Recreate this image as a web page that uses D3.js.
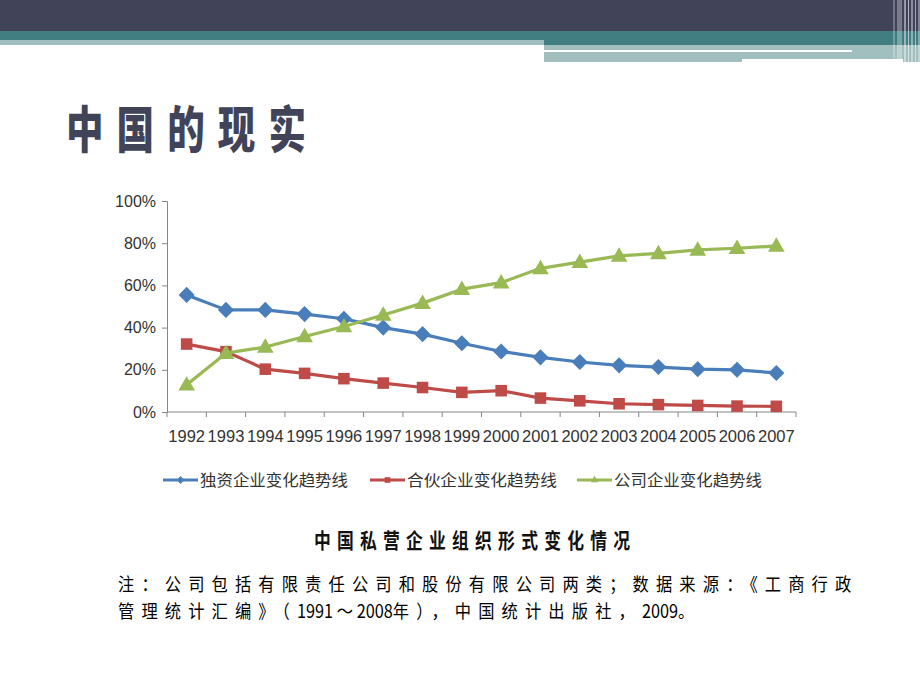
<!DOCTYPE html>
<html>
<head>
<meta charset="utf-8">
<script src="https://cdn.jsdelivr.net/npm/d3@7"></script>
<style>
  body { margin: 0; background: #fff; }
  svg { display: block; }
</style>
</head>
<body>
<svg id="slide" width="920" height="690"></svg>
<script>
// data
var years = ["1992","1993","1994","1995","1996","1997","1998","1999","2000","2001","2002","2003","2004","2005","2006","2007"];
var soleValues = [55.5, 48.4, 48.4, 46.4, 44.2, 40.0, 36.9, 32.6, 28.7, 25.9, 23.7, 22.1, 21.3, 20.3, 20.0, 18.5];
var partnerValues = [32.2, 28.6, 20.3, 18.3, 15.8, 13.7, 11.6, 9.3, 10.1, 6.6, 5.3, 3.9, 3.5, 3.1, 2.8, 2.7];
var companyValues = [12.9, 27.9, 30.8, 35.8, 40.5, 46.0, 51.6, 58.2, 61.3, 68.1, 71.0, 74.0, 75.2, 76.8, 77.6, 78.7];
var seriesNames = ["独资企业变化趋势线", "合伙企业变化趋势线", "公司企业变化趋势线"];
var yTicks = [0, 20, 40, 60, 80, 100];

var colors = ["#4a7ebb", "#be4b48", "#98b954"];
var symbols = [d3.symbolDiamond2, d3.symbolSquare2, d3.symbolTriangle2];
var seriesData = [soleValues, partnerValues, companyValues];

var svg = d3.select("#slide");

/* header bands */
var hdr = svg.append("g");
hdr.append("rect").attr("x", 0).attr("y", 0).attr("width", 920).attr("height", 31).attr("fill", "#414458");
hdr.append("rect").attr("x", 0).attr("y", 31).attr("width", 920).attr("height", 9).attr("fill", "#417e82");
hdr.append("rect").attr("x", 0).attr("y", 40).attr("width", 544).attr("height", 5).attr("fill", "#a2bfc0");
hdr.append("rect").attr("x", 544).attr("y", 40).attr("width", 376).attr("height", 5).attr("fill", "#417e82");
hdr.append("rect").attr("x", 544).attr("y", 45).attr("width", 376).attr("height", 17).attr("fill", "#a2bfc0");
hdr.append("rect").attr("x", 544).attr("y", 50).attr("width", 308).attr("height", 2).attr("fill", "#fff");
hdr.append("rect").attr("x", 742).attr("y", 59).attr("width", 161).attr("height", 3).attr("fill", "#fff");
// thin stripes at the right end
[[893, 2, 0.25], [897, 5, 0.3], [904, 2, 0.45], [908, 1, 0.6], [911, 2, 0.4], [915, 1, 0.5], [918, 2, 0.35]].forEach(function (s) {
  hdr.append("rect").attr("x", s[0]).attr("y", 0).attr("width", s[1]).attr("height", 62)
    .attr("fill", "#fff").attr("opacity", s[2]);
});

/* slide title */
svg.append("text")
  .attr("transform", "translate(66,148) scale(0.75,1)")
  .attr("font-family", "Noto Sans CJK SC")
  .attr("font-weight", 900)
  .attr("font-size", 50)
  .attr("fill", "#414458")
  .attr("textLength", 320)
  .attr("lengthAdjust", "spacing")
  .text("中国的现实");

/* chart */
var xScale = d3.scaleBand()
  .domain(years)
  .range([167, 796]);

var yScale = d3.scaleLinear()
  .domain([0, 100])
  .range([412, 201]);

var axisColor = "#868686";
var labelFont = "'Liberation Sans Narrow', 'Liberation Sans', sans-serif";

var yAxis = svg.append("g")
  .attr("transform", "translate(167,0)")
  .call(d3.axisLeft(yScale).tickValues(yTicks).tickSize(5).tickPadding(6).tickFormat(d => d + "%"));
yAxis.select(".domain").attr("stroke", axisColor);
yAxis.selectAll(".tick line").attr("stroke", axisColor);
yAxis.selectAll("text").attr("font-family", labelFont).attr("font-size", 16).attr("fill", "#333");

var xAxis = svg.append("g")
  .attr("transform", "translate(0,412)")
  .call(d3.axisBottom(xScale).tickSize(0).tickPadding(18));
xAxis.select(".domain").attr("stroke", axisColor).attr("d", "M167,0H796");
xAxis.selectAll("text").attr("font-family", labelFont).attr("font-size", 16.5).attr("fill", "#333");
// category boundary ticks
xAxis.selectAll(".bound")
  .data(years.concat(["end"]))
  .enter().append("line")
  .attr("class", "bound")
  .attr("x1", (d, i) => i < years.length ? xScale(d) : xScale.range()[1])
  .attr("x2", (d, i) => i < years.length ? xScale(d) : xScale.range()[1])
  .attr("y1", 0).attr("y2", 5)
  .attr("stroke", axisColor);

var line = d3.line()
  .x((d, i) => xScale(years[i]) + xScale.bandwidth() / 2)
  .y(d => yScale(d));

var symbolSizes = [165, 170, 200];

seriesData.forEach(function (vals, k) {
  var g = svg.append("g");
  g.append("path")
    .attr("d", line(vals))
    .attr("fill", "none")
    .attr("stroke", colors[k])
    .attr("stroke-width", 3.2)
    .attr("stroke-linejoin", "round");
  g.selectAll("path.m")
    .data(vals)
    .enter().append("path")
    .attr("class", "m")
    .attr("transform", (d, i) => `translate(${xScale(years[i]) + xScale.bandwidth() / 2},${yScale(d) + (k === 2 ? 1 : 0)})`)
    .attr("d", d3.symbol().type(symbols[k]).size(symbolSizes[k]))
    .attr("fill", colors[k]);
});

/* legend */
var legendX = [163, 370, 577];
var legendW = [148, 150, 148];
var legend = svg.append("g");
seriesNames.forEach(function (name, k) {
  var lg = legend.append("g").attr("transform", `translate(${legendX[k]},480)`);
  lg.append("line").attr("x1", 0).attr("x2", 35).attr("y1", 0).attr("y2", 0)
    .attr("stroke", colors[k]).attr("stroke-width", 3.2);
  lg.append("path").attr("transform", "translate(17.5,0)")
    .attr("d", d3.symbol().type(symbols[k]).size(40)).attr("fill", colors[k]);
  lg.append("text")
    .attr("x", 37).attr("y", 6)
    .attr("font-family", "Noto Sans CJK SC")
    .attr("font-size", 16)
    .attr("fill", "#333")
    .attr("textLength", legendW[k])
    .attr("lengthAdjust", "spacingAndGlyphs")
    .text(name);
});

/* caption and note */
svg.append("text")
  .attr("transform", "translate(314,548) scale(0.8,1)")
  .attr("font-family", "Noto Sans CJK SC")
  .attr("font-weight", "bold")
  .attr("font-size", 21)
  .attr("fill", "#111")
  .attr("textLength", 316 / 0.8)
  .attr("lengthAdjust", "spacing")
  .text("中国私营企业组织形式变化情况");

// note: CJK pieces get wide spacing, digit runs stay tight
var noteLine1 = [["注：公司包括有限责任公司和股份有限公司两类；数据来源：《工商行政", 8.1]];
var noteLine2 = [["管理统计汇编》（", 8.1], ["1991", 0], [" ～ ", 0], ["2008", 0], ["年），中国统计出版社，", 8.1], ["2009", 0], ["。", 0]];
[noteLine1, noteLine2].forEach(function (parts, i) {
  var t = svg.append("text")
    .attr("transform", `translate(118,${591 + i * 27}) scale(0.88,1)`)
    .attr("font-family", "Noto Sans CJK SC")
    .attr("font-size", 18.5)
    .attr("fill", "#000");
  parts.forEach(function (p) {
    t.append("tspan").attr("letter-spacing", p[1]).text(p[0]);
  });
});
</script>
</body>
</html>
